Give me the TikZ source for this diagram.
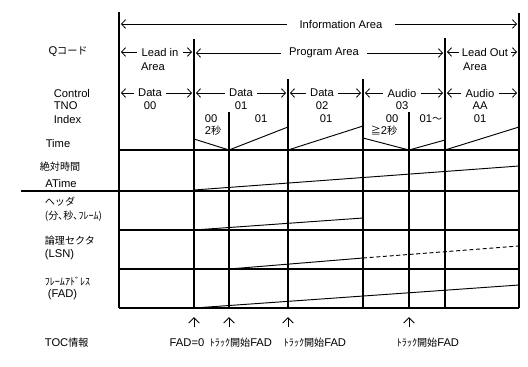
\documentclass[tikz,border=0pt]{standalone}
\usepackage{fontspec}
\setmainfont{Liberation Sans}
\newfontfamily\jpfont{Noto Sans CJK JP}[Scale=0.9]
\usetikzlibrary{arrows.meta}

\begin{document}
\begin{tikzpicture}[x=0.75pt, y=-0.75pt, >={Straight Barb[length=3pt,width=6.5pt]},
  line width=0.8pt,
  every node/.style={font=\fontsize{8.4}{10}\selectfont, inner sep=1pt},
  span/.style={->, line width=0.6pt, shorten >=1.5pt},
  ramp/.style={line width=0.7pt},
  toc/.style={-{Straight Barb[length=4pt,width=8pt]}, line width=0.7pt, shorten <=6.5pt, shorten >=6.8pt},
  toclbl/.style={anchor=base, text height=6pt, text depth=1pt}]
  % Page
  \fill[white] (0,0) rectangle (528,367);
  \useasboundingbox (0,0) rectangle (528,367);

  % Boundaries (bottom point named, line up to its top)
  \foreach \nm/\x/\top in {inL/119/12, prgL/194/39, idx1/229/112, trk2/288/79,
      trk3/363/79, idx3/409/112, outL/445/38, outR/519/13} {
    \coordinate (\nm) at (\x,308);
    \draw (\nm) -- (\x,\top);
  }

  % Rows
  \foreach \y in {150,230,269,308}
    \draw (inL |- 0,\y) -- (outR |- 0,\y);
  \draw (21,191) -- (outR |- 0,191);

  % Information Area
  \node[inner xsep=9pt] (info) at (341,24) {Information Area};
  \draw[span] (info.west) -- (info.west -| inL);
  \draw[span] (info.east) -- (info.east -| outR);

  % Q code areas
  \node[inner xsep=3pt] (leadin) at (160,52) {Lead in};
  \node (leadinA) at (153,67) {Area};
  \draw[span] (leadin.west) -- (leadin.west -| inL);
  \draw[span] (leadin.east) -- (leadin.east -| prgL);
  \node[inner xsep=6pt] (prog) at (324,53) {Program Area};
  \draw[span] (prog.west) -- (prog.west -| prgL);
  \draw[span] (prog.east) -- (prog.east -| outL);
  \node[inner xsep=2pt] (leadout) at (485,52) {Lead Out};
  \node (leadoutA) at (475,67) {Area};
  \draw[span] (leadout.west) -- (leadout.west -| outL);
  \draw[span] (leadout.east) -- (leadout.east -| outR);

  % Control / TNO
  \foreach \nm/\x/\ctl/\tno in {dat0/150/Data/00, dat1/241/Data/01, dat2/322/Data/02,
      aud3/402/Audio/03, audA/480/Audio/AA} {
    \node[inner xsep=3pt] (\nm) at (\x,93) {\ctl};
    \node (\nm t) at (\x,106) {\tno};
  }
  \draw[span] (dat0.west) -- (dat0.west -| inL);
  \draw[span] (dat0.east) -- (dat0.east -| prgL);
  \draw[span] (dat1.west) -- (dat1.west -| prgL);
  \draw[span] (dat1.east) -- (dat1.east -| trk2);
  \draw[span] (dat2.west) -- (dat2.west -| trk2);
  \draw[span] (dat2.east) -- (dat2.east -| trk3);
  \draw[span] (aud3.west) -- (aud3.west -| trk3);
  \draw[span] (aud3.east) -- (aud3.east -| outL);
  \draw[span] (audA.west) -- (audA.west -| outL);
  \draw[span] (audA.east) -- (audA.east -| outR);

  % Index
  \node (ix1a) at (211,119) {00};
  \node (ix1b) at (261,119) {01};
  \node (ix2) at (326,119) {01};
  \node (ix3a) at (392,119) {00};
  \node (ix3b) at (431,119) {01{\jpfont ～}};
  \node (ixA) at (480,119) {01};
  \node (gap1) at (213,131) {2{\jpfont 秒}};
  \node (gap3) at (384,131) {{\jpfont ≧}2{\jpfont 秒}};

  % Time
  \draw[ramp] (194,139) -- (229,150) -- (288,127);
  \draw[ramp] (288,150) -- (363,126);
  \draw[ramp] (363,138) -- (409,150) -- (445,140);
  \draw[ramp] (445,150) -- (519,127);

  % ATime, header, LSN, FAD
  \draw[ramp] (194,190) -- (519,166);
  \draw[ramp] (194,230) -- (363,218);
  \draw[ramp] (229,269) -- (363,258);
  \draw[ramp, dash pattern=on 3pt off 2pt] (363,258) -- (519,246);
  \draw[ramp] (194,308) -- (519,285);

  % Left labels
  \node (qcode) at (68,52) {Q{\jpfont コード}};
  \node[anchor=west] (ctl) at (52,93) {Control};
  \node[anchor=west] (tno) at (52,106) {TNO};
  \node[anchor=west] (idx) at (52,119) {Index};
  \node (time) at (58,143) {Time};
  \node (atimeJ) at (60,167) {\jpfont 絶対時間};
  \node (atime) at (61,183) {ATime};
  \node[anchor=west] (hdrJ) at (43,202) {\jpfont ヘッダ};
  \node[anchor=west] (hdr) at (43,216) {\jpfont (分､秒､ﾌﾚｰﾑ)};
  \node[anchor=west] (lsnJ) at (43,241) {\jpfont 論理セクタ};
  \node[anchor=west] (lsn) at (43,255) {(LSN)};
  \node[anchor=west] (fadJ) at (43,281) {\jpfont ﾌﾚｰﾑｱﾄﾞﾚｽ};
  \node[anchor=west] (fad) at (46,295) {(FAD)};
  \node[toclbl, anchor=base west] (tocJ) at (43,346) {TOC{\jpfont 情報}};

  % TOC
  \node[toclbl] (fad0) at (187,346) {FAD=0};
  \node[toclbl] (start1) at (241,346) {{\jpfont ﾄﾗｯｸ開始}FAD};
  \node[toclbl] (start2) at (315,346) {{\jpfont ﾄﾗｯｸ開始}FAD};
  \node[toclbl] (start3) at (428,346) {{\jpfont ﾄﾗｯｸ開始}FAD};
  \draw[toc] (fad0.north -| prgL) -- (prgL);
  \draw[toc] (start1.north -| idx1) -- (idx1);
  \draw[toc] (start2.north -| trk2) -- (trk2);
  \draw[toc] (start3.north -| idx3) -- (idx3);
\end{tikzpicture}
\end{document}
